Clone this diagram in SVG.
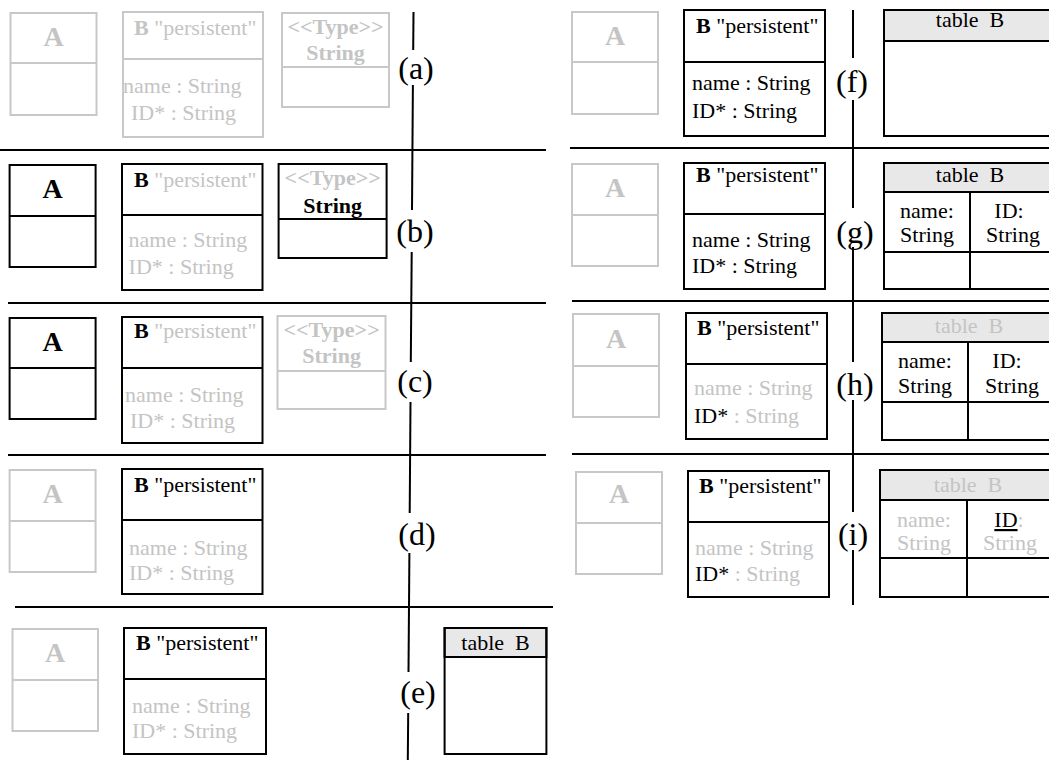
<svg xmlns="http://www.w3.org/2000/svg" width="1049" height="760" viewBox="0 0 1049 760">
<style>
rect, line { stroke-width: 2; }
.bx { fill: none; }
.gs { stroke: #c8c8c8; }
.ks { stroke: #000; }
.hd { fill: #e8e8e8; stroke: #000; }
text { font-family: 'Liberation Serif', 'Tinos', 'Times New Roman', 'DejaVu Serif', 'Noto Serif', serif; font-size: 22px; }
.gt { fill: #c4c4c4; }
.kt { fill: #000; }
.b { font-weight: bold; }
.big { font-size: 28px; font-weight: bold; text-anchor: middle; }
.mid { text-anchor: middle; }
.lbl { font-size: 32px; text-anchor: middle; fill: #000; }
.sep { stroke: #000; stroke-width: 2; }
</style>

<g id="connectors">
  <line class="sep" x1="0" y1="150" x2="546" y2="150"/>
  <line class="sep" x1="8" y1="303" x2="546" y2="303"/>
  <line class="sep" x1="8" y1="455" x2="546" y2="455"/>
  <line class="sep" x1="15" y1="607" x2="553" y2="607"/>
  <line class="sep" x1="570" y1="148" x2="1049" y2="148"/>
  <line class="sep" x1="572" y1="301" x2="1049" y2="301"/>
  <line class="sep" x1="572" y1="454" x2="1049" y2="454"/>
  <line class="sep" x1="413.5" y1="12" x2="413.2" y2="50"/>
  <line class="sep" x1="412.9" y1="85" x2="412.0" y2="210"/>
  <line class="sep" x1="411.7" y1="252" x2="410.8" y2="362"/>
  <line class="sep" x1="410.5" y1="402" x2="409.7" y2="513"/>
  <line class="sep" x1="409.4" y1="553" x2="408.5" y2="672"/>
  <line class="sep" x1="408.2" y1="713" x2="407.8" y2="760"/>
  <line class="sep" x1="853" y1="10" x2="853" y2="58"/>
  <line class="sep" x1="853" y1="100" x2="853" y2="208"/>
  <line class="sep" x1="853" y1="247" x2="853" y2="362"/>
  <line class="sep" x1="853" y1="400" x2="853" y2="512"/>
  <line class="sep" x1="853" y1="550" x2="853" y2="605"/>
</g>

<g id="labels">
  <text class="lbl" x="416" y="79">(a)</text>
  <text class="lbl" x="415" y="242">(b)</text>
  <text class="lbl" x="415" y="392">(c)</text>
  <text class="lbl" x="417" y="545">(d)</text>
  <text class="lbl" x="418" y="703">(e)</text>
  <text class="lbl" x="852" y="92">(f)</text>
  <text class="lbl" x="855" y="243">(g)</text>
  <text class="lbl" x="855" y="395">(h)</text>
  <text class="lbl" x="853" y="545">(i)</text>
</g>

<!-- (a) -->
<g id="a-A">
  <rect class="bx gs" x="10.5" y="13" width="86" height="102"/>
  <line class="gs" x1="10.5" y1="63" x2="96.5" y2="63"/>
  <text class="big gt" x="53.5" y="46">A</text>
</g>
<g id="a-B">
  <rect class="bx gs" x="123" y="12" width="140" height="125"/>
  <line class="gs" x1="123" y1="59" x2="263" y2="59"/>
  <text class="gt" x="134" y="35"><tspan class="b">B</tspan> "persistent"</text>
  <text class="gt" x="123" y="93">name : String</text>
  <text class="gt" x="131" y="120">ID* : String</text>
</g>
<g id="a-Type">
  <rect class="bx gs" x="282" y="13" width="107" height="94"/>
  <line class="gs" x1="282" y1="67" x2="389" y2="67"/>
  <text class="gt b mid" x="335.5" y="34">&lt;&lt;Type&gt;&gt;</text>
  <text class="gt b mid" x="335.5" y="60">String</text>
</g>

<!-- (b) -->
<g id="b-A">
  <rect class="bx ks" x="9.6" y="165" width="86" height="102"/>
  <line class="ks" x1="9.6" y1="216" x2="95.6" y2="216"/>
  <text class="big kt" x="52.5" y="198">A</text>
</g>
<g id="b-B">
  <rect class="bx ks" x="122" y="164" width="140.5" height="126"/>
  <line class="ks" x1="122" y1="215" x2="262.5" y2="215"/>
  <text class="gt" x="134" y="187"><tspan class="b kt">B</tspan> "persistent"</text>
  <text class="gt" x="128.6" y="247">name : String</text>
  <text class="gt" x="128.6" y="274">ID* : String</text>
</g>
<g id="b-Type">
  <rect class="bx ks" x="278.6" y="164" width="108" height="94"/>
  <line class="ks" x1="278.6" y1="219" x2="386.6" y2="219"/>
  <text class="gt b mid" x="332.7" y="185">&lt;&lt;Type&gt;&gt;</text>
  <text class="kt b mid" x="332.7" y="213">String</text>
</g>

<!-- (c) -->
<g id="c-A">
  <rect class="bx ks" x="9.6" y="318" width="86" height="101"/>
  <line class="ks" x1="9.6" y1="368" x2="95.6" y2="368"/>
  <text class="big kt" x="52.5" y="351">A</text>
</g>
<g id="c-B">
  <rect class="bx ks" x="122" y="317" width="140.5" height="126"/>
  <line class="ks" x1="122" y1="368" x2="262.5" y2="368"/>
  <text class="gt" x="134" y="338"><tspan class="b kt">B</tspan> "persistent"</text>
  <text class="gt" x="125" y="402">name : String</text>
  <text class="gt" x="130" y="428">ID* : String</text>
</g>
<g id="c-Type">
  <rect class="bx gs" x="277.5" y="316" width="108" height="93"/>
  <line class="gs" x1="277.5" y1="371" x2="385.5" y2="371"/>
  <text class="gt b mid" x="331.6" y="337">&lt;&lt;Type&gt;&gt;</text>
  <text class="gt b mid" x="331.6" y="363">String</text>
</g>

<!-- (d) -->
<g id="d-A">
  <rect class="bx gs" x="9.6" y="470" width="86" height="102"/>
  <line class="gs" x1="9.6" y1="521" x2="95.6" y2="521"/>
  <text class="big gt" x="52.5" y="503">A</text>
</g>
<g id="d-B">
  <rect class="bx ks" x="122" y="469" width="140.5" height="125"/>
  <line class="ks" x1="122" y1="520" x2="262.5" y2="520"/>
  <text class="kt" x="134" y="492"><tspan class="b">B</tspan> "persistent"</text>
  <text class="gt" x="129" y="555">name : String</text>
  <text class="gt" x="129" y="580">ID* : String</text>
</g>

<!-- (e) -->
<g id="e-A">
  <rect class="bx gs" x="12.5" y="629" width="85.5" height="102"/>
  <line class="gs" x1="12.5" y1="680" x2="98" y2="680"/>
  <text class="big gt" x="55" y="662">A</text>
</g>
<g id="e-B">
  <rect class="bx ks" x="124" y="628" width="142" height="126"/>
  <line class="ks" x1="124" y1="679" x2="266" y2="679"/>
  <text class="kt" x="136" y="650"><tspan class="b">B</tspan> "persistent"</text>
  <text class="gt" x="132" y="713">name : String</text>
  <text class="gt" x="132" y="738">ID* : String</text>
</g>
<g id="e-table">
  <rect class="hd" x="444.6" y="628" width="101.8" height="29"/>
  <rect class="bx ks" x="444.6" y="628" width="101.8" height="126"/>
  <text class="kt mid" x="495.5" y="650" xml:space="preserve">table  B</text>
</g>

<!-- (f) -->
<g id="f-A">
  <rect class="bx gs" x="572" y="12" width="86" height="102"/>
  <line class="gs" x1="572" y1="62" x2="658" y2="62"/>
  <text class="big gt" x="615" y="45">A</text>
</g>
<g id="f-B">
  <rect class="bx ks" x="684" y="10" width="141" height="126"/>
  <line class="ks" x1="684" y1="62" x2="825" y2="62"/>
  <text class="kt" x="696" y="33"><tspan class="b">B</tspan> "persistent"</text>
  <text class="kt" x="692" y="90">name : String</text>
  <text class="kt" x="692" y="118">ID* : String</text>
</g>
<g id="f-table">
  <rect class="hd" x="884" y="10" width="180" height="31"/>
  <rect class="bx ks" x="884" y="10" width="180" height="126"/>
  <text class="kt mid" x="970" y="27" xml:space="preserve">table  B</text>
</g>

<!-- (g) -->
<g id="g-A">
  <rect class="bx gs" x="572" y="164" width="86" height="102"/>
  <line class="gs" x1="572" y1="215" x2="658" y2="215"/>
  <text class="big gt" x="615" y="197">A</text>
</g>
<g id="g-B">
  <rect class="bx ks" x="684" y="163" width="141" height="126"/>
  <line class="ks" x1="684" y1="214" x2="825" y2="214"/>
  <text class="kt" x="696" y="182"><tspan class="b">B</tspan> "persistent"</text>
  <text class="kt" x="692" y="247">name : String</text>
  <text class="kt" x="692" y="273">ID* : String</text>
</g>
<g id="g-table">
  <rect class="hd" x="884" y="163" width="180" height="29"/>
  <rect class="bx ks" x="884" y="163" width="180" height="126"/>
  <line class="ks" x1="970" y1="192" x2="970" y2="289"/>
  <line class="ks" x1="884" y1="252" x2="1064" y2="252"/>
  <text class="kt mid" x="970" y="182" xml:space="preserve">table  B</text>
  <text class="kt mid" x="927" y="218">name:</text>
  <text class="kt mid" x="927" y="242">String</text>
  <text class="kt mid" x="1009" y="218">ID:</text>
  <text class="kt mid" x="1013" y="242">String</text>
</g>

<!-- (h) -->
<g id="h-A">
  <rect class="bx gs" x="573" y="314" width="86" height="103"/>
  <line class="gs" x1="573" y1="366" x2="659" y2="366"/>
  <text class="big gt" x="616" y="348">A</text>
</g>
<g id="h-B">
  <rect class="bx ks" x="686" y="313" width="141" height="126"/>
  <line class="ks" x1="686" y1="364" x2="827" y2="364"/>
  <text class="kt" x="697" y="335"><tspan class="b">B</tspan> "persistent"</text>
  <text class="gt" x="694" y="395">name : String</text>
  <text class="gt" x="694" y="423"><tspan class="kt">ID*</tspan> : String</text>
</g>
<g id="h-table">
  <rect class="hd" x="882" y="313" width="182" height="29"/>
  <rect class="bx ks" x="882" y="313" width="182" height="127"/>
  <line class="ks" x1="968" y1="342" x2="968" y2="440"/>
  <line class="ks" x1="882" y1="402" x2="1064" y2="402"/>
  <text class="gt mid" x="969" y="333" xml:space="preserve">table  B</text>
  <text class="kt mid" x="925" y="368">name:</text>
  <text class="kt mid" x="925" y="393">String</text>
  <text class="kt mid" x="1007" y="368">ID:</text>
  <text class="kt mid" x="1012" y="393">String</text>
</g>

<!-- (i) -->
<g id="i-A">
  <rect class="bx gs" x="576" y="472" width="86" height="102"/>
  <line class="gs" x1="576" y1="523" x2="662" y2="523"/>
  <text class="big gt" x="619" y="503">A</text>
</g>
<g id="i-B">
  <rect class="bx ks" x="688" y="471" width="141" height="126"/>
  <line class="ks" x1="688" y1="522" x2="829" y2="522"/>
  <text class="kt" x="699" y="493"><tspan class="b">B</tspan> "persistent"</text>
  <text class="gt" x="695" y="555">name : String</text>
  <text class="gt" x="695" y="581"><tspan class="kt">ID*</tspan> : String</text>
</g>
<g id="i-table">
  <rect class="hd" x="880" y="470" width="184" height="30"/>
  <rect class="bx ks" x="880" y="470" width="184" height="127"/>
  <line class="ks" x1="967" y1="500" x2="967" y2="597"/>
  <line class="ks" x1="880" y1="558" x2="1064" y2="558"/>
  <text class="gt mid" x="968" y="492" xml:space="preserve">table  B</text>
  <text class="gt mid" x="924" y="527">name:</text>
  <text class="gt mid" x="924" y="550">String</text>
  <text class="gt mid" x="1009" y="527"><tspan class="kt" text-decoration="underline">ID</tspan>:</text>
  <text class="gt mid" x="1010" y="550">String</text>
</g>
</svg>
